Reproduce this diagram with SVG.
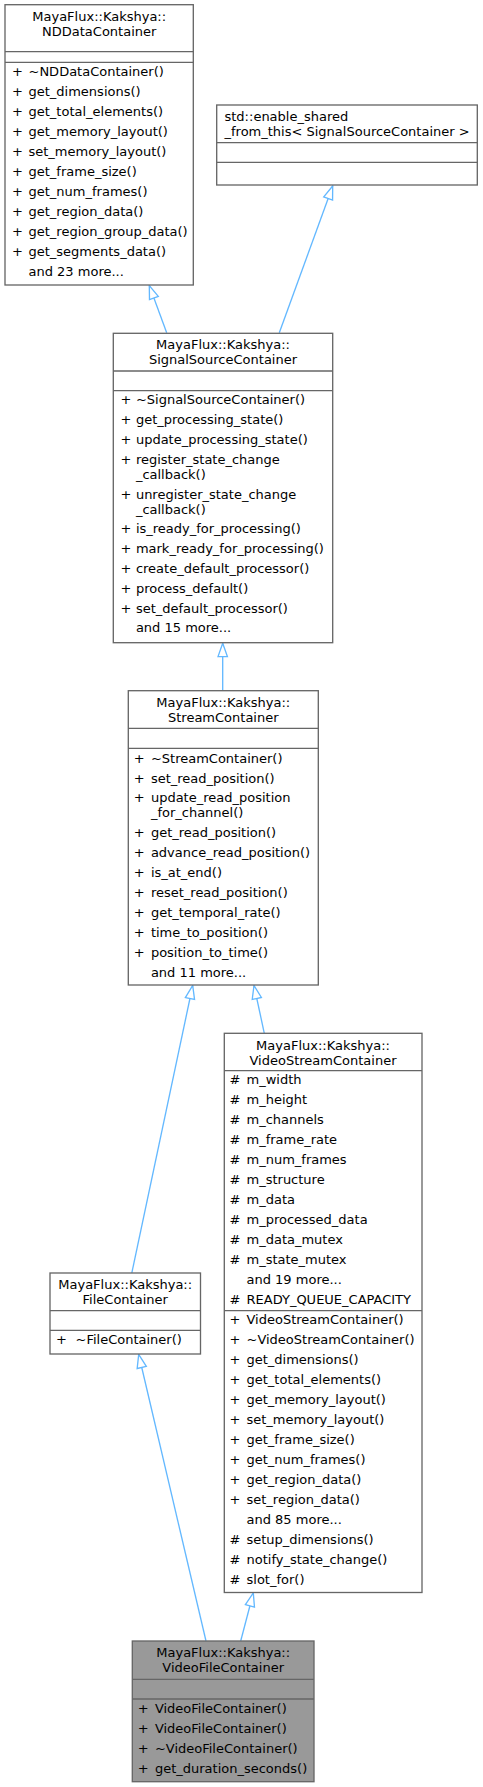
<svg xmlns="http://www.w3.org/2000/svg" width="483" height="1787" viewBox="0 0 483 1787">
<style>
.box{fill:#fff;stroke:#666;stroke-width:1.33}
.cur{fill:#999;stroke:#666;stroke-width:1.33}
.sep{stroke:#666;stroke-width:1.33}
text{font-family:"DejaVu Sans",sans-serif;font-size:13px;fill:#000}
.c{text-anchor:middle}
.edge{stroke:#63b8ff;stroke-width:1.33;fill:none;marker-end:url(#arr)}
</style>
<defs>
<marker id="arr" markerUnits="userSpaceOnUse" markerWidth="16" markerHeight="12" refX="13.3" refY="5" orient="auto" overflow="visible">
<path d="M0,0.3 L13.3,5 L0,9.7 Z" fill="#fff" stroke="#63b8ff" stroke-width="1.33"/>
</marker>
</defs>
<rect width="483" height="1787" fill="#fff"/>

<g id="edges">
<line class="edge" x1="166.7" y1="332.7" x2="149.3" y2="285.5"/>
<line class="edge" x1="279.3" y1="332.7" x2="332.7" y2="186"/>
<line class="edge" x1="222.7" y1="690.7" x2="222.7" y2="643.3"/>
<line class="edge" x1="131.8" y1="1273" x2="192.7" y2="985.5"/>
<line class="edge" x1="264.3" y1="1033.3" x2="254" y2="985.5"/>
<line class="edge" x1="206" y1="1641" x2="138.7" y2="1354.5"/>
<line class="edge" x1="240.7" y1="1641" x2="253.3" y2="1593"/>
</g>

<g id="NDDataContainer">
<rect class="box" x="5" y="4.7" width="188.3" height="280.3"/>
<line class="sep" x1="5" y1="51.7" x2="193.3" y2="51.7"/>
<line class="sep" x1="5" y1="62.3" x2="193.3" y2="62.3"/>
<text class="c" x="99.2" y="20.6">MayaFlux::Kakshya::</text>
<text class="c" x="99.2" y="36.3">NDDataContainer</text>
<text x="12" y="76">+ <tspan x="28.5">~NDDataContainer()</tspan></text>
<text x="12" y="96">+ <tspan x="28.5">get_dimensions()</tspan></text>
<text x="12" y="116">+ <tspan x="28.5">get_total_elements()</tspan></text>
<text x="12" y="136">+ <tspan x="28.5">get_memory_layout()</tspan></text>
<text x="12" y="156">+ <tspan x="28.5">set_memory_layout()</tspan></text>
<text x="12" y="176">+ <tspan x="28.5">get_frame_size()</tspan></text>
<text x="12" y="196">+ <tspan x="28.5">get_num_frames()</tspan></text>
<text x="12" y="216">+ <tspan x="28.5">get_region_data()</tspan></text>
<text x="12" y="236">+ <tspan x="28.5">get_region_group_data()</tspan></text>
<text x="12" y="256">+ <tspan x="28.5">get_segments_data()</tspan></text>
<text x="28.5" y="276">and 23 more...</text>
</g>

<g id="enable_shared_from_this">
<rect class="box" x="216.7" y="105" width="260.6" height="80"/>
<line class="sep" x1="216.7" y1="142.7" x2="477.3" y2="142.7"/>
<line class="sep" x1="216.7" y1="162.3" x2="477.3" y2="162.3"/>
<text x="224.5" y="120.7">std::enable_shared</text>
<text x="224.5" y="135.7">_from_this&lt; SignalSourceContainer &gt;</text>
</g>

<g id="SignalSourceContainer">
<rect class="box" x="113.3" y="333.3" width="219.4" height="309.4"/>
<line class="sep" x1="113.3" y1="371" x2="332.7" y2="371"/>
<line class="sep" x1="113.3" y1="390.7" x2="332.7" y2="390.7"/>
<text class="c" x="223" y="349.3">MayaFlux::Kakshya::</text>
<text class="c" x="223" y="364.3">SignalSourceContainer</text>
<text x="120.4" y="404.3">+ <tspan x="135.9">~SignalSourceContainer()</tspan></text>
<text x="120.4" y="424.1">+ <tspan x="135.9">get_processing_state()</tspan></text>
<text x="120.4" y="443.9">+ <tspan x="135.9">update_processing_state()</tspan></text>
<text x="120.4" y="463.7">+ <tspan x="135.9">register_state_change</tspan></text>
<text x="135.9" y="478.7">_callback()</text>
<text x="120.4" y="498.5">+ <tspan x="135.9">unregister_state_change</tspan></text>
<text x="135.9" y="513.5">_callback()</text>
<text x="120.4" y="533.3">+ <tspan x="135.9">is_ready_for_processing()</tspan></text>
<text x="120.4" y="553.1">+ <tspan x="135.9">mark_ready_for_processing()</tspan></text>
<text x="120.4" y="572.9">+ <tspan x="135.9">create_default_processor()</tspan></text>
<text x="120.4" y="592.7">+ <tspan x="135.9">process_default()</tspan></text>
<text x="120.4" y="612.5">+ <tspan x="135.9">set_default_processor()</tspan></text>
<text x="135.9" y="632.3">and 15 more...</text>
</g>

<g id="StreamContainer">
<rect class="box" x="128.3" y="690.7" width="190" height="294.3"/>
<line class="sep" x1="128.3" y1="728.3" x2="318.3" y2="728.3"/>
<line class="sep" x1="128.3" y1="748.3" x2="318.3" y2="748.3"/>
<text class="c" x="223.3" y="707">MayaFlux::Kakshya::</text>
<text class="c" x="223.3" y="722">StreamContainer</text>
<text x="133.7" y="762.6">+ <tspan x="150.9">~StreamContainer()</tspan></text>
<text x="133.7" y="782.5">+ <tspan x="150.9">set_read_position()</tspan></text>
<text x="133.7" y="802.4">+ <tspan x="150.9">update_read_position</tspan></text>
<text x="150.9" y="817.4">_for_channel()</text>
<text x="133.7" y="837.3">+ <tspan x="150.9">get_read_position()</tspan></text>
<text x="133.7" y="857.2">+ <tspan x="150.9">advance_read_position()</tspan></text>
<text x="133.7" y="877.1">+ <tspan x="150.9">is_at_end()</tspan></text>
<text x="133.7" y="897">+ <tspan x="150.9">reset_read_position()</tspan></text>
<text x="133.7" y="916.9">+ <tspan x="150.9">get_temporal_rate()</tspan></text>
<text x="133.7" y="936.8">+ <tspan x="150.9">time_to_position()</tspan></text>
<text x="133.7" y="956.7">+ <tspan x="150.9">position_to_time()</tspan></text>
<text x="150.9" y="976.6">and 11 more...</text>
</g>

<g id="VideoStreamContainer">
<rect class="box" x="224.3" y="1033.3" width="197.7" height="559.2"/>
<line class="sep" x1="224.3" y1="1070.7" x2="422" y2="1070.7"/>
<line class="sep" x1="224.3" y1="1310.7" x2="422" y2="1310.7"/>
<text class="c" x="323" y="1049.6">MayaFlux::Kakshya::</text>
<text class="c" x="323" y="1064.6">VideoStreamContainer</text>
<text x="229.5" y="1084.3"># <tspan x="246.5">m_width</tspan></text>
<text x="229.5" y="1104.3"># <tspan x="246.5">m_height</tspan></text>
<text x="229.5" y="1124.3"># <tspan x="246.5">m_channels</tspan></text>
<text x="229.5" y="1144.3"># <tspan x="246.5">m_frame_rate</tspan></text>
<text x="229.5" y="1164.3"># <tspan x="246.5">m_num_frames</tspan></text>
<text x="229.5" y="1184.3"># <tspan x="246.5">m_structure</tspan></text>
<text x="229.5" y="1204.3"># <tspan x="246.5">m_data</tspan></text>
<text x="229.5" y="1224.3"># <tspan x="246.5">m_processed_data</tspan></text>
<text x="229.5" y="1244.3"># <tspan x="246.5">m_data_mutex</tspan></text>
<text x="229.5" y="1264.3"># <tspan x="246.5">m_state_mutex</tspan></text>
<text x="246.5" y="1284.3">and 19 more...</text>
<text x="229.5" y="1304.3"># <tspan x="246.5">READY_QUEUE_CAPACITY</tspan></text>
<text x="229.5" y="1324.3">+ <tspan x="246.5">VideoStreamContainer()</tspan></text>
<text x="229.5" y="1344.3">+ <tspan x="246.5">~VideoStreamContainer()</tspan></text>
<text x="229.5" y="1364.3">+ <tspan x="246.5">get_dimensions()</tspan></text>
<text x="229.5" y="1384.3">+ <tspan x="246.5">get_total_elements()</tspan></text>
<text x="229.5" y="1404.3">+ <tspan x="246.5">get_memory_layout()</tspan></text>
<text x="229.5" y="1424.3">+ <tspan x="246.5">set_memory_layout()</tspan></text>
<text x="229.5" y="1444.3">+ <tspan x="246.5">get_frame_size()</tspan></text>
<text x="229.5" y="1464.3">+ <tspan x="246.5">get_num_frames()</tspan></text>
<text x="229.5" y="1484.3">+ <tspan x="246.5">get_region_data()</tspan></text>
<text x="229.5" y="1504.3">+ <tspan x="246.5">set_region_data()</tspan></text>
<text x="246.5" y="1524.3">and 85 more...</text>
<text x="229.5" y="1544.3"># <tspan x="246.5">setup_dimensions()</tspan></text>
<text x="229.5" y="1564.3"># <tspan x="246.5">notify_state_change()</tspan></text>
<text x="229.5" y="1584.3"># <tspan x="246.5">slot_for()</tspan></text>
</g>

<g id="FileContainer">
<rect class="box" x="50" y="1273" width="150.5" height="81"/>
<line class="sep" x1="50" y1="1310.6" x2="200.5" y2="1310.6"/>
<line class="sep" x1="50" y1="1330.4" x2="200.5" y2="1330.4"/>
<text class="c" x="125.2" y="1289.3">MayaFlux::Kakshya::</text>
<text class="c" x="125.2" y="1304.3">FileContainer</text>
<text x="56" y="1344.3">+ <tspan x="75.5">~FileContainer()</tspan></text>
</g>

<g id="VideoFileContainer">
<rect class="cur" x="132.3" y="1641" width="181.7" height="140.7"/>
<line class="sep" x1="132.3" y1="1679.3" x2="314" y2="1679.3"/>
<line class="sep" x1="132.3" y1="1699" x2="314" y2="1699"/>
<text class="c" x="223.2" y="1657.3">MayaFlux::Kakshya::</text>
<text class="c" x="223.2" y="1672.3">VideoFileContainer</text>
<text x="137.7" y="1712.5">+ <tspan x="154.9">VideoFileContainer()</tspan></text>
<text x="137.7" y="1732.5">+ <tspan x="154.9">VideoFileContainer()</tspan></text>
<text x="137.7" y="1752.5">+ <tspan x="154.9">~VideoFileContainer()</tspan></text>
<text x="137.7" y="1772.5">+ <tspan x="154.9">get_duration_seconds()</tspan></text>
</g>
</svg>
